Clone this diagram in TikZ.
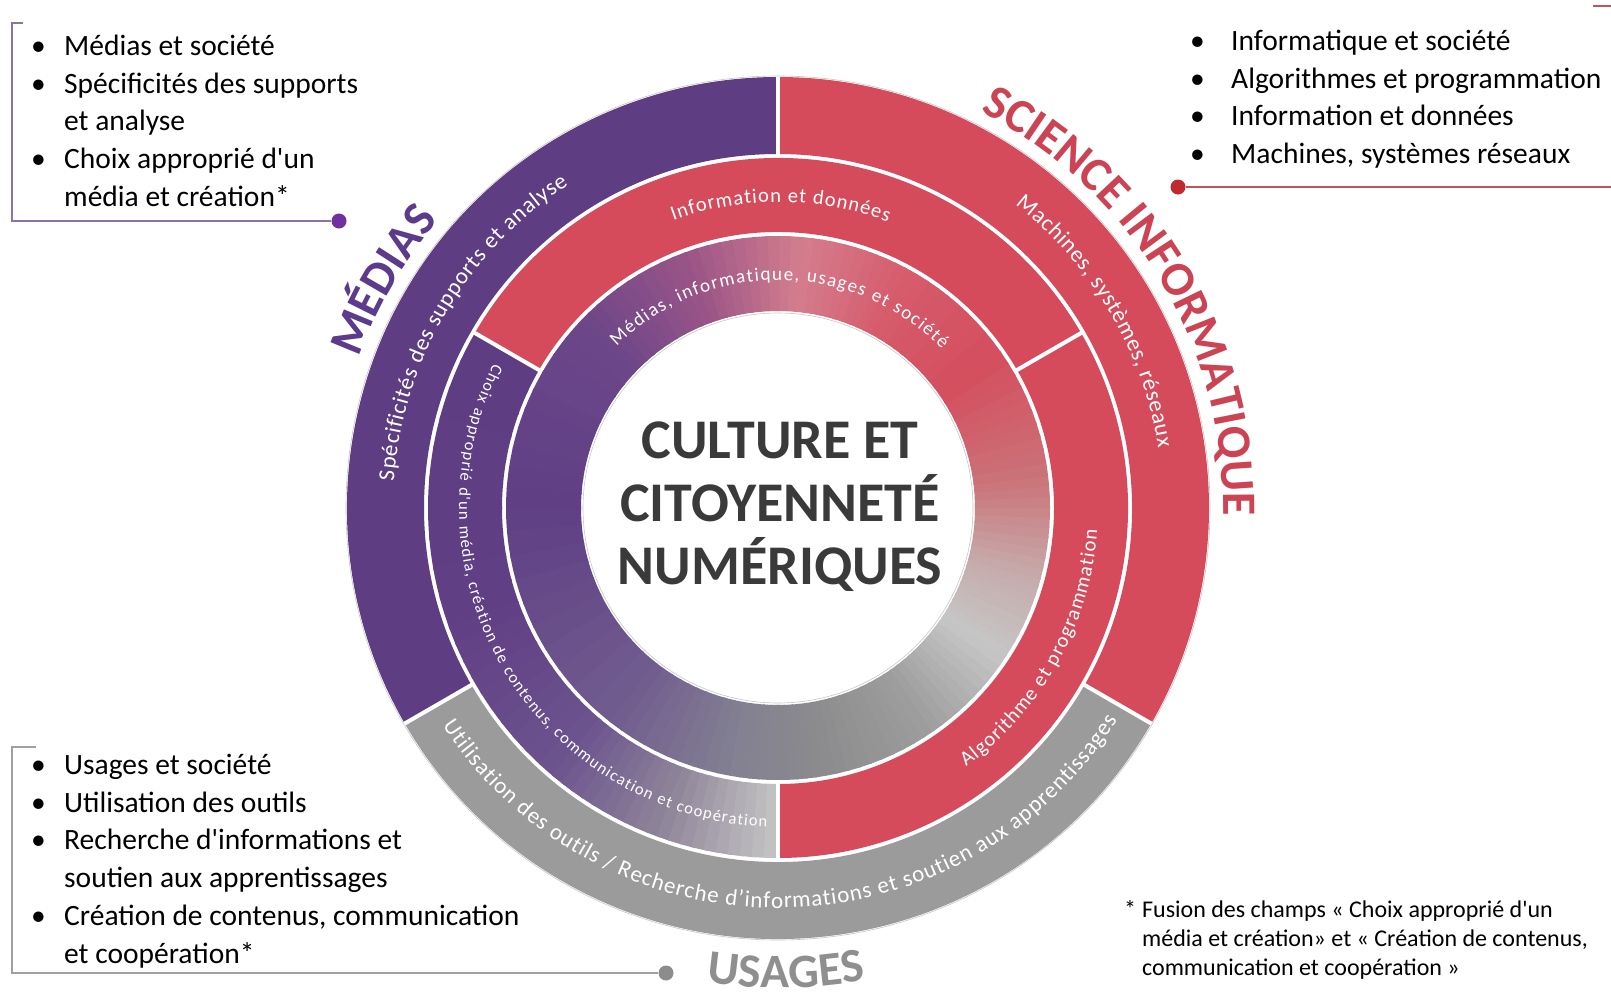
\documentclass[tikz,border=0pt]{standalone}
\usepackage{fontspec}
\setmainfont{Carlito}[Ligatures=TeXOff]
\usetikzlibrary{decorations.text}

\definecolor{mpurple}{HTML}{5E3D82}
\definecolor{mred}{HTML}{D64B5B}
\definecolor{mgrey}{HTML}{9B9B9B}
\definecolor{lpurple}{HTML}{5C3A8C}
\definecolor{lred}{HTML}{CC4454}
\definecolor{lgrey}{HTML}{8F8F8F}
\definecolor{dotpurple}{HTML}{7030A0}
\definecolor{dotred}{HTML}{BE2A2E}
\definecolor{dotgrey}{HTML}{8C8C8C}
\definecolor{linepurple}{HTML}{8A72AE}
\definecolor{linered}{HTML}{C8505A}
\definecolor{linegrey}{HTML}{A0A0A0}
\definecolor{titlegrey}{HTML}{3A3A3A}
% shaded inner ring
\definecolor{gA}{HTML}{5F3F85}
\definecolor{gB}{HTML}{715C8E}
\definecolor{gC}{HTML}{838092}
\definecolor{gD}{HTML}{8B8B8D}
\definecolor{gE}{HTML}{9E9E9E}
\definecolor{gF}{HTML}{C6C6C6}
\definecolor{gG}{HTML}{C6ABAB}
\definecolor{gH}{HTML}{CB7379}
\definecolor{gI}{HTML}{D44E5E}
\definecolor{gJ}{HTML}{D65C6C}
\definecolor{gK}{HTML}{D47D8E}
\definecolor{gL}{HTML}{9A5587}
\definecolor{gM}{HTML}{6C4689}
% shaded purple sector of the middle ring
\definecolor{pA}{HTML}{5E3D82}
\definecolor{pB}{HTML}{613F85}
\definecolor{pC}{HTML}{6C548E}
\definecolor{pD}{HTML}{8E8499}
\definecolor{pE}{HTML}{C4C4C4}

\newcommand\ringthreefont{\fontsize{23}{23}\selectfont}
\newcommand\ringtwofont{\fontsize{20.5}{20.5}\selectfont}
\newcommand\ringonefont{\fontsize{19}{19}\selectfont}
\newcommand\choixfont{\fontsize{16.5}{16.5}\selectfont}
\newcommand\fieldfont{\bfseries\fontsize{48}{48}\selectfont}

\begin{document}
\begin{tikzpicture}[x=1pt,y=1pt,yscale=-1,
  listtext/.style={anchor=base west,inner sep=0pt,font=\fontsize{29.5}{37.7}\selectfont},
  notetext/.style={anchor=base west,inner sep=0pt,font=\fontsize{24}{29}\selectfont},
  titletext/.style={inner sep=0pt,align=center,text=titlegrey,font=\bfseries\fontsize{56}{63}\selectfont},
  keydot/.style={circle,inner sep=0pt,minimum size=15pt},
  bracket/.style={line width=1.4pt},
  divider/.style={white,line width=4pt},
  rimline/.style={black!22,line width=0.6pt},
  ringtext/.style={decorate,decoration={text along path,text align=fit to path,text color=white,text={#1}}}]
\useasboundingbox (0,0) rectangle (1611,996);
\fill[white] (0,0) rectangle (1611,996);

% Wheel, centred at (778,508), angles counter-clockwise
\begin{scope}[shift={(778,508)},yscale=-1]
% Ring 1: shaded ring
\foreach \sa/\ea/\ca/\cb in {-180/-128/gA/gB,-128/-100/gB/gC,-100/-80/gC/gD,-80/-55/gD/gE,-55/-33/gE/gF,-33/-15/gF/gG,-15/7/gG/gH,7/35/gH/gI,35/62/gI/gJ,62/85/gJ/gK,85/110/gK/gL,110/137/gL/gM,137/180/gM/gA}{
  \foreach \k in {0,...,9}{
    \pgfmathsetmacro\angA{\sa+(\ea-\sa)*\k/10-0.3}
    \pgfmathsetmacro\angB{\sa+(\ea-\sa)*(\k+1)/10+0.3}
    \pgfmathsetmacro\mixp{(\k+0.5)*10}
    \fill[\cb!\mixp!\ca] (\angA:197) arc[start angle=\angA,end angle=\angB,radius=197] -- (\angB:272) arc[start angle=\angB,end angle=\angA,radius=272] -- cycle;
  }
}
% Ring 2
\fill[mred] (30:276) arc[start angle=30,end angle=150,radius=276] -- (150:350) arc[start angle=150,end angle=30,radius=350] -- cycle;
\fill[mred] (-90:276) arc[start angle=-90,end angle=30,radius=276] -- (30:350) arc[start angle=30,end angle=-90,radius=350] -- cycle;
\foreach \sa/\ea/\ca/\cb in {150/200/pA/pB,200/230/pB/pC,230/250/pC/pD,250/270/pD/pE}{
  \foreach \k in {0,...,9}{
    \pgfmathsetmacro\angA{\sa+(\ea-\sa)*\k/10-0.3}
    \pgfmathsetmacro\angB{\sa+(\ea-\sa)*(\k+1)/10+0.3}
    \pgfmathsetmacro\mixp{(\k+0.5)*10}
    \fill[\cb!\mixp!\ca] (\angA:276) arc[start angle=\angA,end angle=\angB,radius=276] -- (\angB:350) arc[start angle=\angB,end angle=\angA,radius=350] -- cycle;
  }
}
% Ring 3
\fill[mpurple] (90:354) arc[start angle=90,end angle=210,radius=354] -- (210:431) arc[start angle=210,end angle=90,radius=431] -- cycle;
\fill[mred] (-30:354) arc[start angle=-30,end angle=90,radius=354] -- (90:431) arc[start angle=90,end angle=-30,radius=431] -- cycle;
\fill[mgrey] (210:354) arc[start angle=210,end angle=330,radius=354] -- (330:431) arc[start angle=330,end angle=210,radius=431] -- cycle;

% Dividers and rims
\foreach \a in {90,210,330} \draw[divider] (\a:352) -- (\a:433);
\foreach \a in {30,150,270} \draw[divider] (\a:274) -- (\a:352);
\draw[rimline] (0,0) circle[radius=432];
\draw[rimline] (0,0) circle[radius=195];

% Texts in the rings
\path[ringtext={|\ringthreefont|Spécificités des supports et analyse}] (176:385) arc[start angle=176,end angle=123,radius=385];
\path[ringtext={|\ringthreefont|Machines, systèmes, réseaux}] (52:385) arc[start angle=52,end angle=9,radius=385];
\path[ringtext={|\ringthreefont|Utilisation des outils / Recherche d’informations et soutien aux apprentissages}] (213:400) arc[start angle=213,end angle=328,radius=400];
\path[ringtext={|\ringtwofont|Information et données}] (110:306) arc[start angle=110,end angle=69,radius=306];
\path[ringtext={|\choixfont|Choix approprié d'un média, création de contenus, communication et coopération}] (153:319) arc[start angle=153,end angle=268,radius=319];
\path[ringtext={|\ringtwofont|Algorithme et programmation}] (-54:320) arc[start angle=-54,end angle=-4,radius=320];
\path[ringtext={|\ringonefont|Médias, informatique, usages et société}] (135:228) arc[start angle=135,end angle=44,radius=228];

% Field names round the wheel
\path[decorate,decoration={text along path,text align=center,text color=lpurple,text={|\fieldfont|MÉDIAS}}] (172:445) arc[start angle=172,end angle=128,radius=445];
\path[decorate,decoration={text along path,text align=center,text color=lred,text={|\fieldfont|SCIENCE INFORMATIQUE}}] (76:445) arc[start angle=76,end angle=-14,radius=445];
\path[decorate,decoration={text along path,text align=center,text color=lgrey,text={|\fieldfont|USAGES}}] (250:480) arc[start angle=250,end angle=292,radius=480];
\end{scope}

% Centre
\node[titletext] (culture) at (780,507) {CULTURE ET\\CITOYENNETÉ\\NUMÉRIQUES};

% Lists
\node[listtext] (mediaslist) at (31,55.5) {\begin{tabular}[t]{@{}p{33pt}@{}l@{}}
\textbullet & Médias et société\\
\textbullet & Spécificités des supports\\
 & et analyse\\
\textbullet & Choix approprié d'un\\
 & média et création*
\end{tabular}};
\node[listtext] (infolist) at (1190,50.5) {\begin{tabular}[t]{@{}p{41pt}@{}l@{}}
\textbullet & Informatique et société\\
\textbullet & Algorithmes et programmation\\
\textbullet & Information et données\\
\textbullet & Machines, systèmes réseaux
\end{tabular}};
\node[listtext] (usageslist) at (31,774.5) {\begin{tabular}[t]{@{}p{33pt}@{}l@{}}
\textbullet & Usages et société\\
\textbullet & Utilisation des outils\\
\textbullet & Recherche d'informations et\\
 & soutien aux apprentissages\\
\textbullet & Création de contenus, communication\\
 & et coopération*
\end{tabular}};
\node[notetext] (fusionnote) at (1124,917) {\begin{tabular}[t]{@{}p{18pt}@{}l@{}}
* & Fusion des champs « Choix approprié d'un\\
 & média et création» et « Création de contenus,\\
 & communication et coopération »
\end{tabular}};

% Brackets and dots
\coordinate (mediastop) at (23,23);
\coordinate (mediascorner) at (12,221);
\coordinate (infotop) at (1593,6);
\coordinate (infocorner) at (1616,187);
\coordinate (usagestop) at (36,747);
\coordinate (usagescorner) at (12,973);
\node[keydot,fill=dotpurple] (mediasdot) at (339,221) {};
\node[keydot,fill=dotred] (infodot) at (1178,187) {};
\node[keydot,fill=dotgrey] (usagesdot) at (666,973) {};
\draw[bracket,linepurple] (mediastop) -| (mediascorner) -- (mediasdot);
\draw[bracket,linered] (infodot) -- (infocorner) |- (infotop);
\draw[bracket,linegrey] (usagestop) -| (usagescorner) -- (usagesdot);

\end{tikzpicture}
\end{document}
